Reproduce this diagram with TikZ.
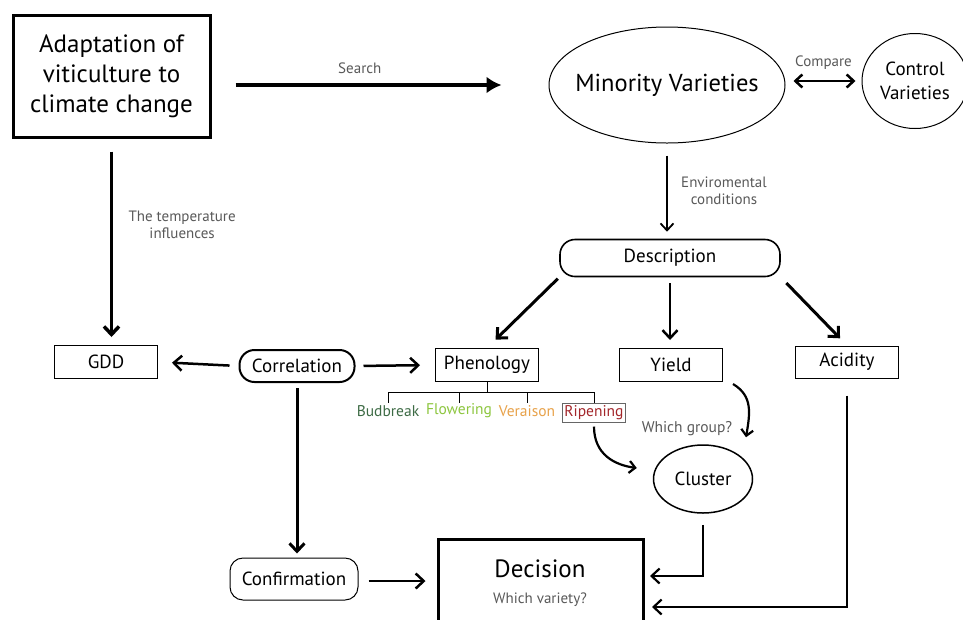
\documentclass[tikz,border=0pt]{standalone}
\usepackage{fontspec}
\setmainfont{PT Sans}
\usetikzlibrary{arrows.meta,shapes.geometric,calc}
\definecolor{budcol}{HTML}{3D6B45}
\definecolor{flocol}{HTML}{8DC63F}
\definecolor{vercol}{HTML}{E8A24A}
\definecolor{ripcol}{HTML}{A3262A}
\tikzset{
  box/.style={draw, line width=1pt, minimum width=103pt, minimum height=33pt, font=\fontsize{19}{22}\selectfont},
  pill/.style={draw, rounded corners=15pt, minimum height=33pt, font=\fontsize{19}{22}\selectfont},
  arr/.style={-{Straight Barb[length=8pt,width=15pt]}, line width=2.5pt},
  lbl/.style={font=\fontsize{15}{17}\selectfont, text=black!65, align=center},
  stage/.style={font=\fontsize{15.5}{18}\selectfont, inner sep=2pt}
}
\begin{document}
\begin{tikzpicture}[x=1pt,y=-1pt]
\clip (0,0) rectangle (963,619);
\fill[white] (0,0) rectangle (963,619);
% top row
\node[draw, line width=3pt, minimum width=197pt, minimum height=122pt, align=center,
      font=\fontsize{25}{30}\selectfont] (ada) at (111.5,76) {Adaptation of\\viticulture to\\climate change};
\node[draw, ellipse, line width=1pt, inner xsep=-30pt, minimum width=236pt, minimum height=116pt,
      font=\fontsize{24.5}{28}\selectfont] (min) at (667,85) {Minority Varieties};
\node[draw, ellipse, line width=1pt, inner xsep=-8pt, minimum width=106pt, minimum height=95pt, align=center,
      font=\fontsize{19}{24}\selectfont] (ctl) at (915,81) {Control\\Varieties};
\draw[-{Latex[length=15pt,width=17pt]}, line width=4.5pt, shorten <=24pt, shorten >=47pt] (ada.east |- min) -- (min.west)
  node[pos=0.44, above=6pt, lbl] {Search};
\draw[{Straight Barb[length=7pt,width=13pt]}-{Straight Barb[length=7pt,width=13pt]}, line width=2.5pt,
      shorten <=8pt, shorten >=6pt] (min.east |- ctl) -- (ctl.west)
  node[pos=0.5, above=7pt, lbl] {Compare};
% description level
\node[pill, line width=1.6pt, minimum width=220pt, minimum height=37pt] (desc) at (670,258) {Description};
\draw[-{Straight Barb[length=7pt,width=13pt]}, line width=1.8pt, shorten <=12pt, shorten >=7pt]
  (min.south) -- (min.south |- desc.north)
  node[pos=0.5, right=10pt, lbl] {Enviromental\\conditions};
% second row
\node[box] (gdd) at (106,362) {GDD};
\node[pill, line width=2pt, minimum width=115pt, minimum height=32pt] (cor) at (297,366) {Correlation};
\node[box] (phen) at (487,365) {Phenology};
\node[box] (yld) at (671,365) {Yield};
\node[box, minimum height=32pt] (aci) at (847,362) {Acidity};
\draw[arr, line width=3.5pt, shorten <=13pt, shorten >=8pt] (ada.south) -- (ada.south |- gdd.north)
  node[pos=0.42, right=12pt, lbl] {The temperature\\influences};
\draw[arr, line width=3pt, shorten <=2pt, shorten >=12pt] (desc.south west) -- (phen.north);
\draw[arr, shorten <=6pt, shorten >=8pt] (desc.south) -- (desc.south |- yld.north);
\draw[arr, line width=3pt, shorten <=8pt, shorten >=10pt] (desc.south east) -- (aci.north);
\draw[arr, shorten <=9pt, shorten >=14pt] (cor.west) -- (gdd.east);
\draw[arr, shorten <=8pt, shorten >=15pt] (cor.east) -- (phen.west);
% phenology stages
\node[stage, text=budcol] (bud) at (388,411) {Budbreak};
\node[stage, text=flocol] (flo) at (459,411) {Flowering};
\node[stage, text=vercol] (ver) at (527,411) {Veraison};
\node[stage, text=ripcol, draw=black!60, line width=0.8pt] (rip) at (594,413) {Ripening};
\coordinate (fork) at ($(phen.south)+(0,10)$);
\draw[line width=0.8pt] (phen.south) -- (fork);
\draw[line width=0.8pt] (bud.north |- fork) -- (rip.north |- fork);
\foreach \s in {bud,flo,ver,rip}
  \draw[line width=0.8pt] (\s.north |- fork) -- ++(0,11);
% cluster
\node[draw, ellipse, line width=1.5pt, inner xsep=-4pt, minimum width=99pt, minimum height=68pt,
      font=\fontsize{19}{22}\selectfont] (cl) at (703,479) {Cluster};
\node[lbl, font=\fontsize{15.5}{18}\selectfont] (grp) at (687,429) {Which group?};
\draw[-{Straight Barb[length=6pt,width=12pt]}, line width=2.2pt]
  (rip.south) ++(0,4) .. controls +(0,28) and +(-22,-3) .. ($(cl.west)+(-16,-11)$);
\draw[-{Straight Barb[length=6pt,width=12pt]}, line width=2.2pt]
  ($(yld.south east)+(10,2)$) .. controls +(20,12) and +(4,-24) .. ($(cl.north)+(43,-7)$);
% bottom row
\node[pill, line width=1pt, rounded corners=13pt, minimum width=128pt, minimum height=42pt] (conf) at (294,579) {Confirmation};
\node[draw, line width=3pt, minimum width=205pt, minimum height=110pt, anchor=north] (dec) at (540.5,538) {};
\node[font=\fontsize{25}{28}\selectfont] (dectxt) at (540,569) {Decision};
\node[lbl, font=\fontsize{15}{17}\selectfont] (which) at (540,600) {Which variety?};
\draw[arr, line width=3pt, shorten <=5pt, shorten >=4pt] (cor.south) -- (cor.south |- conf.north);
\draw[arr, shorten <=10pt, shorten >=11pt] (conf.east |- 0,581) -- (dec.west |- 0,581);
\coordinate (clin) at (650,576);
\coordinate (acin) at (652,607);
\draw[arr, line width=2.2pt, shorten <=11pt] (cl.south) |- (clin);
\draw[arr, line width=2.2pt, shorten <=17pt] (aci.south) |- (acin);
\end{tikzpicture}
\end{document}
